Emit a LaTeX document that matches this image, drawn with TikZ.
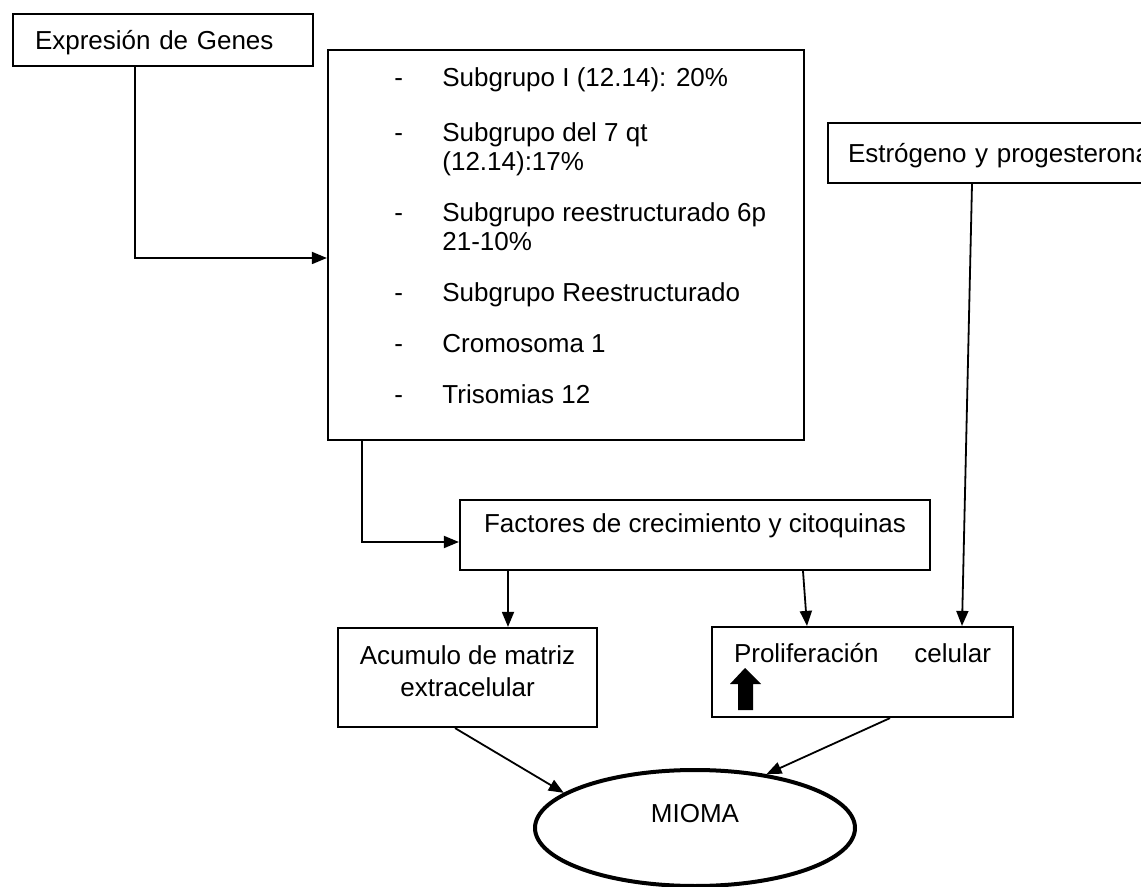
\documentclass[tikz,border=0pt]{standalone}
\usepackage{fontspec}
\setmainfont{Liberation Sans}
\usetikzlibrary{arrows.meta,shapes.geometric}

\begin{document}
\begin{tikzpicture}[
  x=0.5pt, y=-0.5pt,
  caja/.style={draw, line width=1.1pt, inner sep=0pt, text height=9.3pt, text depth=0pt,
    font=\fontsize{13}{16}\selectfont},
  flecha/.style={-{Triangle[length=7.5pt,width=6pt]}, line width=0.9pt}
]
\useasboundingbox (0,0) rectangle (1141,887);
\clip (0,0) rectangle (1141,887);

% cajas
\node[caja, minimum width=150pt, minimum height=26pt, text width=128pt, align=left] (genes) at (163,40) {Expresión de Genes};
\node[caja, minimum width=238pt, minimum height=195pt] (lista) at (566,245) {};
\node[anchor=base west, inner sep=0pt, align=left, font=\fontsize{13}{14.5}\selectfont] (subgrupos) at (394,404)
  {\makebox[24pt][l]{-}Subgrupo I (12.14): 20\%\\[13pt]
   \makebox[24pt][l]{-}Subgrupo del 7 qt\\
   \hspace*{24pt}(12.14):17\%\\[11pt]
   \makebox[24pt][l]{-}Subgrupo reestructurado 6p\\
   \hspace*{24pt}21-10\%\\[11pt]
   \makebox[24pt][l]{-}Subgrupo Reestructurado\\[11pt]
   \makebox[24pt][l]{-}Cromosoma 1\\[11pt]
   \makebox[24pt][l]{-}Trisomias 12};
\node[caja, minimum width=186pt, minimum height=30pt, text width=166pt, align=left] (estrogeno) at (1014,153) {Estrógeno y progesterona};
\node[caja, minimum width=235pt, minimum height=35pt, text depth=12pt] (factores) at (695,535) {Factores de crecimiento y citoquinas};
\node[caja, minimum width=129.5pt, minimum height=49.5pt, text height=18.5pt, align=center] (acumulo) at (467.5,677.5) {Acumulo de matriz\\extracelular};
\node[caja, minimum width=150.5pt, minimum height=45pt, text depth=19pt] (prolif) at (862.5,672) {\makebox[128.5pt]{Proliferación\hfill celular}};
\fill (745,668) -- (730,684) -- (738,684) -- (738,710) -- (753,710) -- (753,684) -- (761,684) -- cycle;
\node[caja, ellipse, line width=2pt, minimum width=160pt, minimum height=58pt, text depth=15.3pt] (mioma) at (695,828) {MIOMA};

% flechas
\draw[flecha] (genes.south -| 135,0) |- (lista.west |- 0,258);
\draw[flecha] (lista.south -| 362,0) |- (factores.west |- 0,542);
\draw[flecha] (factores.south -| 508,0) -- (acumulo.north -| 508,0);
\draw[flecha] (factores.south -| 803,0) -- (prolif.north -| 807,0);
\draw[flecha] (estrogeno.south -| 972,0) -- (prolif.north -| 962,0);
\draw[flecha] (acumulo.south -| 455,0) -- (mioma.165);
\draw[flecha] (prolif.south -| 890,0) -- (mioma.37);
\end{tikzpicture}
\end{document}
